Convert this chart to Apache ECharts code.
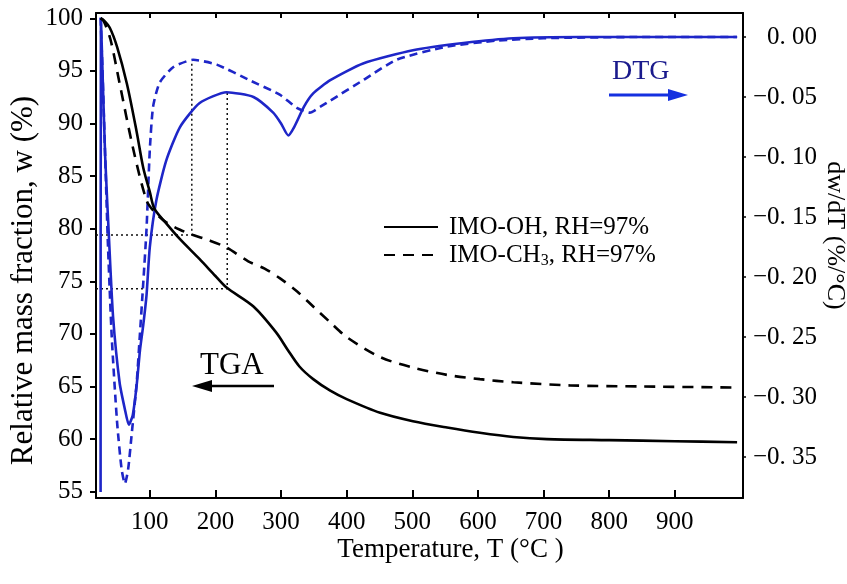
<!DOCTYPE html>
<html>
<head>
<meta charset="utf-8">
<script src="https://cdn.jsdelivr.net/npm/echarts@6/dist/echarts.min.js"></script>
<style>html,body{margin:0;padding:0;background:#fff;}#c{width:847px;height:584px;}</style>
</head>
<body>
<div id="c"></div>
<script>
// ---- data ----
var xTicks = [100, 200, 300, 400, 500, 600, 700, 800, 900];
var leftTicks = [55, 60, 65, 70, 75, 80, 85, 90, 95, 100];
var rightTicks = [-0.35, -0.30, -0.25, -0.20, -0.15, -0.10, -0.05, 0.00];

var tgaOH_T = [25, 30, 39, 50, 65, 80, 90, 100, 107, 125, 146, 176, 200, 217, 258, 293, 310, 328, 349, 375, 400, 451, 501, 553, 603, 654, 705, 800, 900, 995];
var tgaOH_w = [100, 99.8, 99.1, 97.3, 93.8, 89.2, 85.8, 83.5, 81.9, 80.5, 79.0, 77.1, 75.5, 74.4, 72.6, 70.1, 68.5, 66.9, 65.7, 64.6, 63.8, 62.5, 61.7, 61.1, 60.6, 60.2, 60.0, 59.9, 59.8, 59.7];

var tgaCH3_T = [25, 30, 40, 54, 75, 95, 107, 125, 146, 166, 190, 217, 250, 275, 298, 325, 349, 375, 400, 451, 501, 553, 603, 654, 741, 850, 995];
var tgaCH3_w = [100, 99.7, 98.0, 93.8, 87.5, 82.7, 81.6, 80.6, 79.9, 79.4, 78.9, 78.2, 76.9, 76.2, 75.3, 74.0, 72.6, 71.1, 69.7, 67.8, 66.8, 66.1, 65.7, 65.4, 65.1, 65.0, 64.9];

var dtgOH_T = [25, 25.5, 28, 32, 38, 44, 54, 62, 68, 74, 80, 85, 90, 95, 100, 110, 125, 146, 176, 217, 258, 288, 300, 311, 320, 335, 349, 375, 425, 501, 578, 654, 756, 850, 995];
var dtgOH_d = [-0.379, 0.016, -0.03, -0.10, -0.17, -0.233, -0.288, -0.31, -0.323, -0.315, -0.29, -0.261, -0.24, -0.215, -0.175, -0.136, -0.103, -0.075, -0.055, -0.046, -0.050, -0.063, -0.072, -0.082, -0.075, -0.058, -0.047, -0.036, -0.022, -0.011, -0.005, -0.001, 0.0, 0.0, 0.0];

var dtgCH3_T = [25, 28, 32, 36, 42, 50, 57, 62, 67, 72, 80, 85, 90, 95, 100, 105, 115, 136, 166, 202, 252, 298, 324, 344, 360, 375, 425, 476, 553, 629, 700, 850, 995];
var dtgCH3_d = [0.016, -0.03, -0.10, -0.17, -0.25, -0.32, -0.36, -0.372, -0.36, -0.333, -0.288, -0.247, -0.205, -0.16, -0.094, -0.058, -0.038, -0.025, -0.019, -0.023, -0.036, -0.048, -0.059, -0.063, -0.058, -0.053, -0.036, -0.019, -0.008, -0.003, -0.001, 0.0, 0.0];

// dotted guide lines (temperature, mass fraction)
var guide1_T = [18, 164, 164];
var guide1_w = [79.4, 79.4, 95.9];
var guide2_T = [18, 218, 218];
var guide2_w = [74.3, 74.3, 93.1];

var nameOH = 'IMO-OH, RH=97%';
var nameCH3 = 'IMO-CH3, RH=97%';

function zip(a, b) { return a.map(function (v, i) { return [v, b[i]]; }); }

var FONT = "'Liberation Serif','Times New Roman',serif";
var BLUE = '#1e26c8';

var chart = echarts.init(document.getElementById('c'), null, {renderer: 'canvas'});
chart.setOption({
  animation: false,
  backgroundColor: '#fff',
  grid: {left: 96, right: 104, top: 13, bottom: 86, containLabel: false, outerBoundsMode: 'none'},
  legend: {
    data: [nameOH, nameCH3],
    orient: 'vertical',
    left: 378, top: 208,
    itemWidth: 54, itemHeight: 14, itemGap: 0,
    itemStyle: {opacity: 0},
    formatter: function (n) { return n === nameCH3 ? 'IMO-CH{sub|3}, RH=97%' : n; },
    textStyle: {
      fontFamily: FONT, fontSize: 25, color: '#000', lineHeight: 28, padding: [0, 0, 0, 6],
      rich: {sub: {fontFamily: FONT, fontSize: 16, verticalAlign: 'bottom', padding: [10, 0, 0, 0], color: '#000'}}
    }
  },
  xAxis: [{
    type: 'value', min: 18, max: 1004, position: 'bottom',
    name: 'Temperature, T (°C )', nameLocation: 'middle', nameGap: 38, nameMoveOverlap: false,
    nameTextStyle: {fontFamily: FONT, fontSize: 27, color: '#000', padding: [0, 0, 0, 62]},
    axisLine: {onZero: false, lineStyle: {color: '#000', width: 2}},
    axisTick: {inside: true, length: 8, lineStyle: {color: '#000', width: 2}, customValues: xTicks},
    axisLabel: {fontFamily: FONT, fontSize: 25, color: '#000', margin: 12, customValues: xTicks},
    splitLine: {show: false}
  }, {
    type: 'value', min: 18, max: 1004, position: 'top',
    axisLine: {onZero: false, lineStyle: {color: '#000', width: 2}},
    axisTick: {inside: true, length: 5, lineStyle: {color: '#000', width: 2}, customValues: xTicks},
    axisLabel: {show: false},
    splitLine: {show: false}
  }],
  yAxis: [{
    type: 'value', min: 54.4, max: 100.5, position: 'left',
    name: 'Relative mass fraction, w (%)', nameLocation: 'middle', nameGap: 57, nameMoveOverlap: false,
    nameTextStyle: {fontFamily: FONT, fontSize: 31, color: '#000', padding: [0, 50, 0, 0]},
    axisLine: {onZero: false, lineStyle: {color: '#000', width: 2}},
    axisTick: {inside: false, length: 6, lineStyle: {color: '#000', width: 2}, customValues: leftTicks},
    axisLabel: {fontFamily: FONT, fontSize: 25, color: '#000', margin: 13, customValues: leftTicks},
    splitLine: {show: false}
  }, {
    type: 'value', min: -0.384, max: 0.02, position: 'right',
    name: 'dw/dT (%/°C)', nameLocation: 'middle', nameGap: 79, nameRotate: -90, nameMoveOverlap: false,
    nameTextStyle: {fontFamily: FONT, fontSize: 26, color: '#000', padding: [0, 40, 0, 0]},
    axisLine: {onZero: false, lineStyle: {color: '#000', width: 2}},
    axisTick: {inside: false, length: 3, lineStyle: {color: '#000', width: 1.5}, customValues: rightTicks},
    axisLabel: {
      fontFamily: FONT, fontSize: 25, color: '#000', margin: 74, align: 'right', customValues: rightTicks,
      formatter: function (v) { var s = Math.abs(v).toFixed(2).replace('.', '. '); return (v < -1e-9 ? '\u2212' : '') + s; }
    },
    splitLine: {show: false}
  }],
  series: [
    {name: 'guide1', type: 'line', xAxisIndex: 0, yAxisIndex: 0, data: zip(guide1_T, guide1_w), symbol: 'none', silent: true,
      lineStyle: {color: '#111', width: 1.5, type: [2, 3]}, z: 1},
    {name: 'guide2', type: 'line', xAxisIndex: 0, yAxisIndex: 0, data: zip(guide2_T, guide2_w), symbol: 'none', silent: true,
      lineStyle: {color: '#111', width: 1.5, type: [2, 3]}, z: 1},
    {name: 'DTG OH', type: 'line', xAxisIndex: 0, yAxisIndex: 1, data: zip(dtgOH_T, dtgOH_d), symbol: 'none',
      smooth: 0.2,
      lineStyle: {color: BLUE, width: 2.6}, z: 2},
    {name: 'DTG CH3', type: 'line', xAxisIndex: 0, yAxisIndex: 1, data: zip(dtgCH3_T, dtgCH3_d), symbol: 'none',
      smooth: 0.2,
      lineStyle: {color: BLUE, width: 2.6, type: [8, 5]}, z: 2},
    {name: nameOH, type: 'line', xAxisIndex: 0, yAxisIndex: 0, data: zip(tgaOH_T, tgaOH_w), symbol: 'none',
      smooth: 0.3,
      itemStyle: {color: '#000'}, lineStyle: {color: '#000', width: 2.6}, z: 3},
    {name: nameCH3, type: 'line', xAxisIndex: 0, yAxisIndex: 0, data: zip(tgaCH3_T, tgaCH3_w), symbol: 'none',
      smooth: 0.3,
      itemStyle: {color: '#000'}, lineStyle: {color: '#000', width: 2.6, type: [11, 8]}, z: 3}
  ],
  graphic: [
    {type: 'text', left: 200, top: 350, style: {text: 'TGA', font: "31px 'Liberation Serif', serif", fill: '#000'}},
    {type: 'line', shape: {x1: 205, y1: 386, x2: 274, y2: 386}, style: {stroke: '#000', lineWidth: 2.5}},
    {type: 'polygon', shape: {points: [[192, 386], [212, 380], [212, 392]]}, style: {fill: '#000'}},
    {type: 'text', left: 612, top: 58, style: {text: 'DTG', font: "28px 'Liberation Serif', serif", fill: '#1a1a8c'}},
    {type: 'line', shape: {x1: 609, y1: 95, x2: 672, y2: 95}, style: {stroke: '#1530e0', lineWidth: 3}},
    {type: 'polygon', shape: {points: [[688, 95], [668, 89], [668, 101]]}, style: {fill: '#1530e0'}}
  ]
});
</script>
</body>
</html>
